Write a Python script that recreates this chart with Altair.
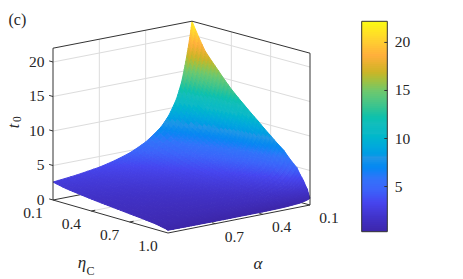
import numpy as np
import pandas as pd
import altair as alt

# values
ALPHA = [.1, .11, .125, .145, .167, .2, .25, .3, .4, .5, .6, .7, .85, 1.0]
ETA = [.1, .2, .3, .4, .5, .6, .7, .8, .9, .95, .98, 1.0]
T0 = [
    [22, 18.2, 15.9, 13.7, 11.9, 10.2, 8.5, 6.9, 4.9, 3.3, 2.2, 1.0],
    [20.3, 16.8, 14.7, 12.6, 11.0, 9.4, 7.8, 6.3, 4.5, 3.0, 2.0, .88],
    [18.2, 15.06, 13.14, 11.3, 9.82, 8.43, 6.98, 5.64, 4.0, 2.67, 1.74, .75],
    [15.8, 13.07, 11.41, 9.82, 8.53, 7.32, 6.06, 4.89, 3.47, 2.32, 1.51, .65],
    [13.5, 11.17, 9.74, 8.38, 7.28, 6.25, 5.17, 4.18, 2.96, 1.97, 1.29, .55],
    [11.2, 9.27, 8.1, 6.97, 6.06, 5.21, 4.32, 3.5, 2.49, 1.68, 1.11, .5],
    [9, 7.46, 6.51, 5.61, 4.88, 4.2, 3.48, 2.82, 2.02, 1.36, .91, .42],
    [7.55, 6.26, 5.47, 4.72, 4.11, 3.53, 2.94, 2.39, 1.71, 1.17, .79, .38],
    [5.8, 4.82, 4.22, 3.65, 3.18, 2.75, 2.3, 1.88, 1.36, .95, .66, .35],
    [4.7, 3.92, 3.44, 2.98, 2.61, 2.26, 1.9, 1.57, 1.16, .83, .6, .35],
    [3.98, 3.33, 2.93, 2.55, 2.24, 1.95, 1.65, 1.37, 1.03, .75, .56, .35],
    [3.45, 2.89, 2.55, 2.23, 1.96, 1.71, 1.46, 1.22, .93, .69, .53, .35],
    [2.95, 2.49, 2.2, 1.93, 1.71, 1.51, 1.29, 1.09, .85, .65, .52, .37],
    [2.6, 2.2, 1.96, 1.73, 1.54, 1.37, 1.19, 1.02, .81, .64, .53, .4],
]
Z_TICKS = [0, 5, 10, 15, 20]
AB_TICKS = [.1, .4, .7, 1.0]
BAR_TICKS = [5, 10, 15, 20]
Z_MIN, Z_MAX = .3, 22.2
CMAP_Z = [.3, 1.8, 3.5, 4.8, 5.9, 8.1, 10.5, 11.7, 13.1, 15, 17, 18.7, 20.1, 22.2]
CMAP = ["#3c26a8", "#4132c8", "#4646f0", "#3c64fa", "#3273fa", "#2396e6", "#0fb9c8", "#14bebb",
        "#2dc396", "#6ec86e", "#cdb428", "#ffaf3c", "#ffcd32", "#fafa14"]

W, H = 447, 271
SUB = 4
COLOR_SCALE = alt.Scale(domain=CMAP_Z, range=CMAP)


def proj(eta, alpha, z):
    u = (np.asarray(alpha, float) - .1) / .9
    v = (np.asarray(eta, float) - .1) / .9
    x = (1-u)*(1-v)*192 + u*(1-v)*53 + (1-u)*v*310 + u*v*168 - 8
    y = (1-u)*(1-v)*173 + u*(1-v)*200 + (1-u)*v*205 + u*v*233 - 8
    return x, y - 6.9 * np.asarray(z, float)


# surface shading: subdivide each table cell, as a shaded surface does
na, ne = len(ALPHA), len(ETA)
ia = np.linspace(0, na - 1, (na - 1) * SUB + 1)
ie = np.linspace(0, ne - 1, (ne - 1) * SUB + 1)
lz = np.log(np.array(T0, float))
lz1 = np.array([np.interp(ie, np.arange(ne), r) for r in lz])
zz = np.exp(np.array([np.interp(ia, np.arange(na), c) for c in lz1.T]).T)
aa = np.interp(ia, np.arange(na), ALPHA)
ee = np.interp(ie, np.arange(ne), ETA)
E, A = np.meshgrid(ee, aa)
PX, PY = proj(E, A, zz)
cells = []
for i in range(len(aa) - 1):
    for j in range(len(ee) - 1):
        ring = [(i, j), (i+1, j), (i+1, j+1), (i, j+1), (i, j)]
        cells.append((i + j, {
            "type": "Feature",
            "geometry": {"type": "Polygon", "coordinates": [[[round(float(PX[p]), 2), round(float(PY[p]), 2)] for p in ring]]},
            "z": round(float(zz[i:i+2, j:j+2].mean()), 3),
        }))
cells.sort(key=lambda c: c[0])
features = [c[1] for c in cells]


def seg_rows(segs):
    rows = []
    for k, s in enumerate(segs):
        for o, (e, a, z) in enumerate(s):
            x, y = proj(e, a, z)
            rows.append({"id": k, "o": o, "x": float(x), "y": float(y)})
    return pd.DataFrame(rows)


xs = alt.Scale(domain=[0, W], range=[0, W])
ys = alt.Scale(domain=[0, H], range=[0, H])
X = alt.X("x:Q", scale=xs, axis=None)
Y = alt.Y("y:Q", scale=ys, axis=None)


def lines(segs, color, width):
    return alt.Chart(seg_rows(segs)).mark_line(color=color, strokeWidth=width, clip=False).encode(
        x=X, y=Y, detail="id:N", order="o:Q")


ZTOP = 22
grid = []
for z in Z_TICKS[1:]:
    grid += [[(.1, 1, z), (.1, .1, z)], [(.1, .1, z), (1, .1, z)]]
for t in [.4, .7]:
    grid += [[(.1, t, 0), (.1, t, ZTOP)], [(t, .1, 0), (t, .1, ZTOP)],
             [(.1, t, 0), (1, t, 0)], [(t, 1, 0), (t, .1, 0)]]
back = [[(.1, 1, 0), (.1, .1, 0)], [(.1, .1, 0), (1, .1, 0)]]
box = [[(.1, 1, 0), (.1, 1, ZTOP)], [(.1, 1, ZTOP), (.1, .1, ZTOP)], [(.1, .1, ZTOP), (1, .1, ZTOP)],
       [(1, .1, ZTOP), (1, .1, 0)], [(.1, 1, 0), (1, 1, 0)], [(1, 1, 0), (1, .1, 0)]]
for t in AB_TICKS[1:3]:
    box += [[(t, 1, 0), (t, .975, 0)], [(1, t, 0), (.975, t, 0)]]
for z in Z_TICKS:
    box.append([(.1, 1, z), (.07, 1.0, z)])

surface = alt.Chart(alt.InlineData(values=features)).mark_geoshape(strokeWidth=1).encode(
    fill=alt.Fill("z:Q", scale=COLOR_SCALE, legend=None),
    stroke=alt.Stroke("z:Q", scale=COLOR_SCALE, legend=None),
).project(type="identity", scale=1, translate=[0, 0])


def text(rows, size=15.5, style="normal", align="center", angle=0):
    return alt.Chart(pd.DataFrame(rows, columns=["x", "y", "t"])).mark_text(
        font="Liberation Serif", fontSize=size, fontStyle=style, color="#262626", align=align,
        baseline="middle", angle=angle).encode(x=X, y=Y, text="t:N")


def at(e, a, z, dx, dy, s):
    x, y = proj(e, a, z)
    return (float(x) + dx, float(y) + dy, s)


zlab = [at(.1, 1, z, -8.5, -0.5, str(z)) for z in Z_TICKS]
elab = [at(t, 1, 0, -20, 13, f"{t:.1f}") for t in AB_TICKS]
alab = [at(1, t, 0, 19, 13, f"{t:.1f}") for t in AB_TICKS[:3]]

# colourbar: own scale from the colour range to its page span
BX0, BX1, BT, BB = 353.7, 379.3, 13.3, 223.7
bar_y = lambda v: BB - (v - Z_MIN) / (Z_MAX - Z_MIN) * (BB - BT)
edges = np.linspace(Z_MIN, Z_MAX, 106)
bar = pd.DataFrame({"x": BX0, "x2": BX1, "y": bar_y(edges[1:]), "y2": np.minimum(bar_y(edges[:-1]) + .8, BB),
                    "z": (edges[1:] + edges[:-1]) / 2})
bar_rect = alt.Chart(bar).mark_rect(strokeWidth=0).encode(
    x=X, x2="x2:Q", y=Y, y2="y2:Q", fill=alt.Fill("z:Q", scale=COLOR_SCALE, legend=None))
frame = pd.DataFrame({"x": [BX0, BX1, BX1, BX0, BX0], "y": [BT, BT, BB, BB, BT], "o": range(5)})
bar_frame = alt.Chart(frame).mark_line(color="#333333", strokeWidth=1).encode(x=X, y=Y, order="o:Q")
bar_ticks = pd.DataFrame({"x": [BX1 - 3] * 4, "x2": [BX1] * 4, "y": [bar_y(v) for v in BAR_TICKS]})
bar_marks = alt.Chart(bar_ticks).mark_rule(color="#333333", strokeWidth=1).encode(x=X, x2="x2:Q", y=Y)
bar_lab = [(BX1 + 7.5, bar_y(v), str(v)) for v in BAR_TICKS]

chart = alt.layer(
    lines(grid, "#dcdcdc", 1),
    lines(back, "#333333", 1),
    surface,
    lines(box, "#333333", 1),
    text(zlab, align="right"),
    text(elab),
    text(alab),
    text([(0.5, 12, "(c)")], size=16, align="left"),
    text([(6, 118, "t")], size=16, style="italic", angle=270),
    text([(10, 111, "0")], size=11.5, angle=270),
    text([(74, 255, "\u03b7")], size=17, style="italic"),
    text([(82.5, 263, "C")], size=12),
    text([(250, 256, "\u03b1")], size=17, style="italic"),
    bar_rect,
    bar_frame,
    bar_marks,
    text(bar_lab, align="left"),
).properties(width=W, height=H, padding=0, autosize=alt.AutoSizeParams(type="none")).configure_view(stroke=None)

chart.save("out.html", embed_options={"renderer": "svg", "actions": False})
